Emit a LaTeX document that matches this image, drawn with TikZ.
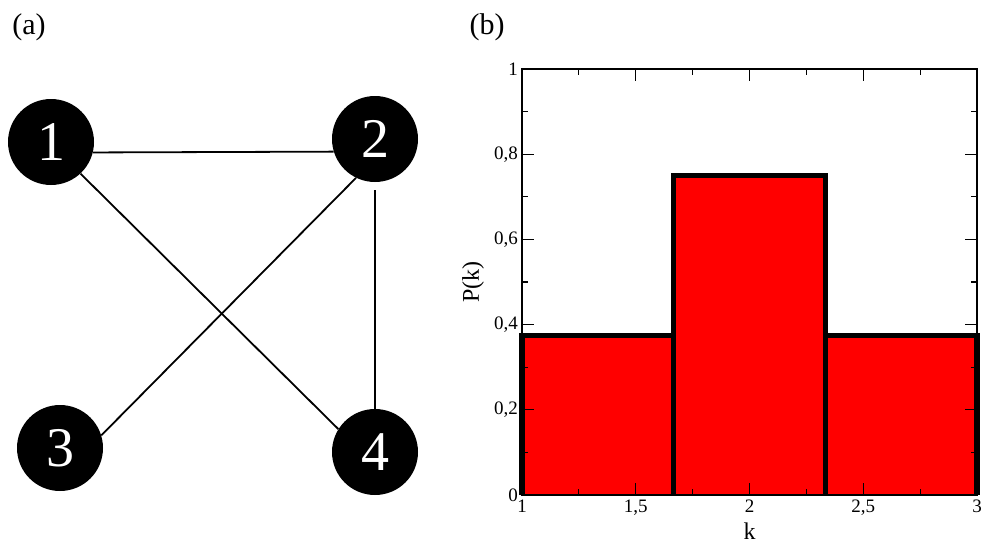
\documentclass[tikz,border=0pt]{standalone}
\usepackage{fontspec}
\setmainfont{Liberation Serif}
\usetikzlibrary{positioning}

\begin{document}
\begin{tikzpicture}[x=1pt, y=-1pt,
  vertex/.style={circle, fill=black, text=white, minimum size=86pt, inner sep=0pt, font=\fontsize{56}{56}\selectfont},
  edge/.style={black, line width=1.8pt},
  panel/.style={font=\fontsize{30}{30}\selectfont},
  ticklab/.style={font=\fontsize{19}{19}\selectfont, inner sep=1pt},
  axlab/.style={font=\fontsize{24}{24}\selectfont},
  bar/.style={fill=red},
  barline/.style={line width=5.5pt, line join=miter}]
\useasboundingbox (0,0) rectangle (988,544);
% panel (a): graph
\node[panel] (la) at (29,27) {(a)};
\node[vertex] (n1) at (51,142) {1};
\node[vertex] (n2) at (375,139) {2};
\node[vertex] (n3) at (60,448) {3};
\node[vertex] (n4) at (375,452) {4};
\draw[edge] (n1.-14) -- (n2.197);
\draw[edge] (n1.-47) -- (n4.148);
\draw[edge] (n2.-116) -- (n3.17);
\draw[edge, shorten <=8pt] (n2.south) -- (n4.north);
% panel (b): degree distribution
\node[panel] (lb) at (487,27) {(b)};
\begin{scope}[shift={(522,495)}, x=227.5pt, y=426pt]
  % bars
  \fill[bar] (0,0) rectangle (2/3,0.375);
  \fill[bar] (2/3,0) rectangle (4/3,0.75);
  \fill[bar] (4/3,0) rectangle (2,0.375);
  \draw[barline] (0,0) -- (0,0.375) -- (2/3,0.375) -- (2/3,0.75) -- (4/3,0.75) -- (4/3,0.375) -- (2,0.375) -- (2,0);
  \draw[barline] (2/3,0) -- (2/3,0.375);
  \draw[barline] (4/3,0) -- (4/3,0.375);
  % frame and ticks
  \draw[line width=1.2pt] (0,0) rectangle (2,1);
  \foreach \v/\lab in {0/0, 0.2/{0,2}, 0.4/{0,4}, 0.6/{0,6}, 0.8/{0,8}, 1/1} {
    \draw[line width=1.2pt] (0,\v) -- ++(12pt,0);
    \draw[line width=1.2pt] (2,\v) -- ++(-12pt,0);
    \node[ticklab, anchor=east] (yl\v) at ([xshift=-3pt]0,\v) {\lab};
  }
  \foreach \v in {0.1,0.3,...,0.9} {
    \draw[line width=1.2pt] (0,\v) -- ++(6pt,0);
    \draw[line width=1.2pt] (2,\v) -- ++(-6pt,0);
  }
  \foreach \u/\lab in {0/1, 0.5/{1,5}, 1/2, 1.5/{2,5}, 2/3} {
    \draw[line width=1.2pt] (\u,0) -- ++(0,12pt);
    \draw[line width=1.2pt] (\u,1) -- ++(0,-12pt);
    \node[ticklab, anchor=north] (xl\u) at ([yshift=-4pt]\u,0) {\lab};
  }
  \foreach \u in {0.25,0.75,...,1.75} {
    \draw[line width=1.2pt] (\u,0) -- ++(0,6pt);
    \draw[line width=1.2pt] (\u,1) -- ++(0,-6pt);
  }
  \node[axlab, anchor=north] (kl) at ([yshift=-24pt]1,0) {k};
  \node[axlab, rotate=90] (pl) at ([xshift=-49pt]0,0.5) {P(k)};
\end{scope}
\end{tikzpicture}
\end{document}
